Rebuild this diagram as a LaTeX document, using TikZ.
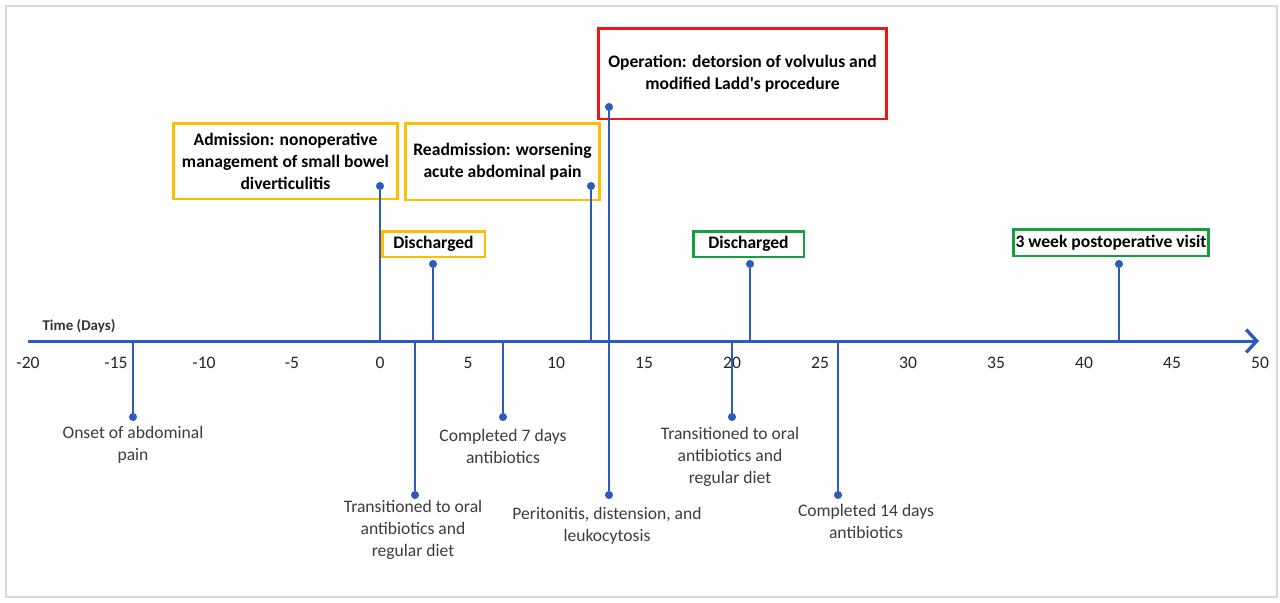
\documentclass[tikz,border=0pt]{standalone}
\usepackage{fontspec}
\setmainfont{Carlito}
\usetikzlibrary{arrows.meta}

\definecolor{tlblue}{RGB}{45,90,190}
\definecolor{boxorange}{RGB}{255,190,0}
\definecolor{boxred}{RGB}{240,20,20}
\definecolor{boxgreen}{RGB}{20,160,60}
\definecolor{lbltext}{RGB}{60,60,60}

\tikzset{
  axisline/.style={tlblue, line width=1.7pt, -{Straight Barb[length=6pt,width=13pt,line width=1.9pt]}},
  stem/.style={tlblue, line width=0.9pt},
  dot/.style={circle, fill=tlblue, inner sep=0pt, minimum size=4.6pt},
  evbox/.style={draw, line width=1.7pt, align=center, inner sep=2pt,
    font=\fontsize{10}{12.5}\selectfont\bfseries},
  lbl/.style={align=center, text=lbltext, font=\fontsize{10}{12.5}\selectfont},
  tick/.style={text=black!85, font=\fontsize{10}{12}\selectfont}
}

\begin{document}
\begin{tikzpicture}[x=0.02cm, y=-0.02cm]
  \useasboundingbox (0,0) rectangle (1280,602);
  \draw [gray!30, line width=0.8pt] (6,6) rectangle (1277,597);

  % boxes above the axis
  \node [evbox, draw=boxorange, minimum width=4.5cm, minimum height=1.52cm] (admbox) at (285.5,161)
    {Admission: nonoperative\\management of small bowel\\diverticulitis};
  \node [evbox, draw=boxorange, minimum width=3.9cm, minimum height=1.54cm] (readmbox) at (502.5,161.5)
    {Readmission: worsening\\acute abdominal pain};
  \node [evbox, draw=boxorange, minimum width=2.06cm, minimum height=0.52cm] (dis1box) at (433.5,244) {Discharged};
  \node [evbox, draw=boxred, minimum width=5.78cm, minimum height=1.82cm] (opbox) at (742.5,73.5)
    {Operation: detorsion of volvulus and\\modified Ladd\textquotesingle s procedure};
  \node [evbox, draw=boxgreen, minimum width=2.22cm, minimum height=0.52cm] (dis2box) at (748.5,244) {Discharged};
  \node [evbox, draw=boxgreen, inner xsep=1pt, minimum height=0.54cm] (visitbox) at (1111,242.5) {3 week postoperative visit};

  % axis
  \coordinate (axstart) at (28,341);
  \coordinate (axend) at (1259,341);
  \draw [axisline] (axstart) -- (axend);
  \node [font=\fontsize{8.5}{10}\selectfont\bfseries, text=black!80] (timelbl) at (79,326) {Time (Days)};
  \foreach \d in {-20,-15,...,50}
    \node [tick] (tk\d) at ({380+17.6*\d},363) {\d};

  % points on the axis
  \coordinate (dm14) at (133,341);
  \coordinate (d0) at (380,341);
  \coordinate (d2) at (415,341);
  \coordinate (d3) at (433,341);
  \coordinate (d7) at (503,341);
  \coordinate (d12) at (591,341);
  \coordinate (d13) at (609,341);
  \coordinate (d20) at (732,341);
  \coordinate (d21) at (750,341);
  \coordinate (d26) at (838,341);
  \coordinate (d42) at (1119,341);

  % dots
  \node [dot] (admdot) at (380,186) {};
  \node [dot] (dis1dot) at (433,264) {};
  \node [dot] (readmdot) at (591,186) {};
  \node [dot] (opdot) at (609,107) {};
  \node [dot] (dis2dot) at (750,264) {};
  \node [dot] (visitdot) at (1119,264) {};
  \node [dot] (onsetdot) at (133,417) {};
  \node [dot] (oral1dot) at (415,495) {};
  \node [dot] (abx7dot) at (503,417) {};
  \node [dot] (peridot) at (609,495) {};
  \node [dot] (oral2dot) at (732,417) {};
  \node [dot] (abx14dot) at (838,495) {};

  % stems
  \draw [stem] (d0) -- (admdot);
  \draw [stem] (d3) -- (dis1dot);
  \draw [stem] (d12) -- (readmdot);
  \draw [stem] (d13) -- (opdot);
  \draw [stem] (d21) -- (dis2dot);
  \draw [stem] (d42) -- (visitdot);
  \draw [stem] (dm14) -- (onsetdot);
  \draw [stem] (d2) -- (oral1dot);
  \draw [stem] (d7) -- (abx7dot);
  \draw [stem] (d13) -- (peridot);
  \draw [stem] (d20) -- (oral2dot);
  \draw [stem] (d26) -- (abx14dot);

  % labels below the axis
  \node [lbl] (onset) at (133,445) {Onset of abdominal\\pain};
  \node [lbl] (oral1) at (413,530) {Transitioned to oral\\antibiotics and\\regular diet};
  \node [lbl] (abx7) at (503,446) {Completed 7 days\\antibiotics};
  \node [lbl] (peri) at (607,526) {Peritonitis, distension, and\\leukocytosis};
  \node [lbl] (oral2) at (730,457) {Transitioned to oral\\antibiotics and\\regular diet};
  \node [lbl] (abx14) at (866,521) {Completed 14 days\\antibiotics};
\end{tikzpicture}
\end{document}
